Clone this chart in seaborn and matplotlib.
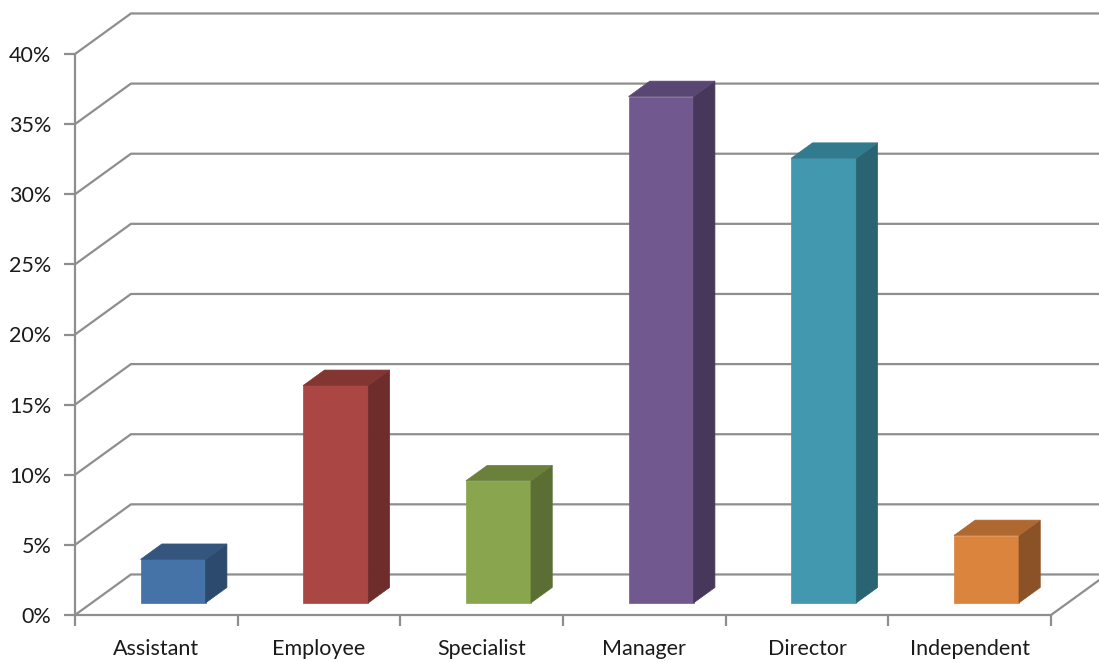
import matplotlib
matplotlib.use('Agg')
import matplotlib.pyplot as plt
import seaborn as sns
import pandas as pd

categories = ['Assistant', 'Employee', 'Specialist', 'Manager', 'Director', 'Independent']
values = [3.1, 15.5, 8.7, 36.1, 31.7, 4.8]
front_colors = ['#4572A7', '#AA4643', '#89A54E', '#71588F', '#4198AF', '#DB843D']
top_colors = ['#34557E', '#833532', '#6A803B', '#5A4672', '#327A8D', '#AE6830']
side_colors = ['#2C4A6D', '#6E2C2A', '#5B6E33', '#47385B', '#2A6473', '#8A5226']
y_ticks = [0, 5, 10, 15, 20, 25, 30, 35, 40]
y_tick_labels = ['0%', '5%', '10%', '15%', '20%', '25%', '30%', '35%', '40%']

# fake 3d: full depth of the box, in data units
DX, DY = 0.344, 2.89
BAR_FRONT = 0.30   # where the bar front face sits (fraction of depth)
BAR_DEPTH = 0.38   # bar depth (fraction of depth)
GRID = '#8E8E8E'

if __name__ == "__main__":
    sns.set_style('white')
    plt.rcParams['font.family'] = ['Lato', 'DejaVu Sans']

    df = pd.DataFrame({'role': categories, 'share': values})

    fig = plt.figure(figsize=(10.99, 6.62), dpi=100)
    ax = fig.add_axes([75 / 1099, 47 / 662, 976 / 1099, 561 / 662])

    sns.barplot(data=df, x='role', y='share', hue='role', order=categories,
                palette=front_colors, saturation=1, width=0.4, legend=False,
                ax=ax, zorder=3)

    ax.set_xlim(-0.5, 5.5)
    ax.set_ylim(0, 40)

    # back wall lines + floor
    for v in y_ticks:
        ax.plot([-0.5, -0.5 + DX, 5.5 + DX], [v, v + DY, v + DY],
                color=GRID, lw=1.6, clip_on=False, zorder=1)
    ax.plot([5.5, 5.5 + DX], [0, DY], color=GRID, lw=1.6, clip_on=False, zorder=1)

    # shift front faces into depth and add top/side faces
    ox, oy = BAR_FRONT * DX, BAR_FRONT * DY
    bx, by = BAR_DEPTH * DX, BAR_DEPTH * DY
    for i, p in enumerate(ax.patches):
        x0, w, h = p.get_x(), p.get_width(), p.get_height()
        p.set_x(x0 + ox)
        p.set_y(oy)
        p.set_edgecolor(front_colors[i])
        p.set_linewidth(0.5)
        xl, xr, yt = x0 + ox, x0 + w + ox, h + oy
        ax.fill([xr, xr, xr + bx, xr + bx], [oy, yt, yt + by, oy + by],
                facecolor=side_colors[i], edgecolor=side_colors[i], lw=0.5,
                zorder=3, clip_on=False)
        ax.fill([xl, xr, xr + bx, xl + bx], [yt, yt, yt + by, yt + by],
                facecolor=top_colors[i], edgecolor=top_colors[i], lw=0.5,
                zorder=3, clip_on=False)

    for s in ['top', 'right']:
        ax.spines[s].set_visible(False)
    for s in ['left', 'bottom']:
        ax.spines[s].set_color(GRID)
        ax.spines[s].set_linewidth(1.6)

    ax.set_yticks(y_ticks)
    ax.set_yticklabels(y_tick_labels)
    ax.set_xticks(range(len(categories)))
    ax.set_xticklabels(categories)
    ax.set_xticks([i - 0.5 for i in range(len(categories) + 1)], minor=True)
    ax.tick_params(axis='y', length=8, width=1.6, color=GRID, pad=9,
                   labelsize=15.5, labelcolor='#1a1a1a', left=True)
    ax.tick_params(axis='x', which='major', length=0, pad=17,
                   labelsize=15.5, labelcolor='#1a1a1a')
    ax.tick_params(axis='x', which='minor', length=8, width=1.6, color=GRID,
                   bottom=True)
    ax.set_xlabel('')
    ax.set_ylabel('')

    fig.savefig('out.png', dpi=100, facecolor='white')
